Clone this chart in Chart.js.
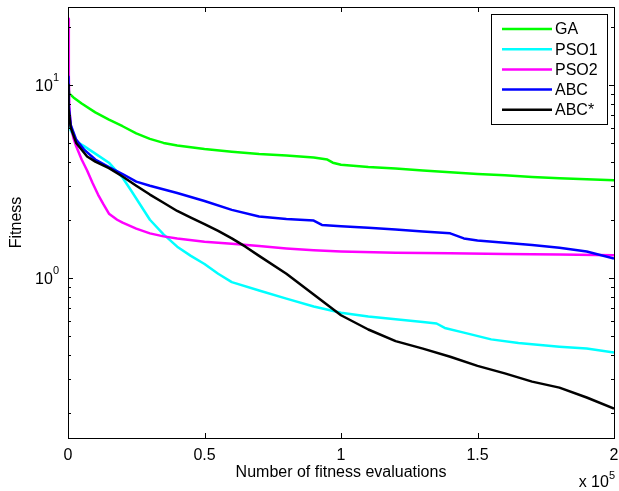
<!DOCTYPE html>
<html>
<head>
<meta charset="utf-8">
<script src="https://cdn.jsdelivr.net/npm/chart.js@4.4.1/dist/chart.umd.min.js"></script>
<style>
  body { margin: 0; background: #fff; }
  canvas { display: block; }
</style>
</head>
<body>
<canvas id="fitnessChart" width="619" height="491"></canvas>
<script>
// evaluations are in units of 1e5 (axis shows "x 10^5")
const seriesNames = ['GA', 'PSO1', 'PSO2', 'ABC', 'ABC*'];

const gaX = [0, 0.005, 0.02, 0.05, 0.1, 0.15, 0.2, 0.25, 0.3, 0.35, 0.4, 0.5, 0.6, 0.7, 0.8, 0.9, 0.95, 0.97, 1.0, 1.1, 1.2, 1.3, 1.4, 1.5, 1.6, 1.7, 1.8, 1.9, 2.0];
const gaY = [10, 9.0, 8.6, 8.0, 7.2, 6.6, 6.1, 5.6, 5.25, 5.0, 4.85, 4.65, 4.5, 4.38, 4.3, 4.2, 4.1, 3.95, 3.85, 3.75, 3.68, 3.6, 3.52, 3.45, 3.4, 3.33, 3.28, 3.24, 3.2];

const pso1X = [0, 0.003, 0.01, 0.03, 0.06, 0.1, 0.15, 0.2, 0.23, 0.26, 0.3, 0.35, 0.4, 0.45, 0.5, 0.55, 0.6, 0.7, 0.8, 0.9, 1.0, 1.1, 1.2, 1.3, 1.35, 1.38, 1.45, 1.55, 1.65, 1.8, 1.9, 2.0];
const pso1Y = [9, 7, 5.8, 5.1, 4.8, 4.4, 3.95, 3.3, 2.85, 2.45, 2.0, 1.68, 1.45, 1.3, 1.18, 1.05, 0.95, 0.86, 0.78, 0.71, 0.66, 0.63, 0.61, 0.59, 0.58, 0.55, 0.52, 0.48, 0.46, 0.44, 0.43, 0.41];

const pso2X = [0.002, 0.003, 0.005, 0.01, 0.02, 0.03, 0.05, 0.07, 0.09, 0.11, 0.13, 0.15, 0.18, 0.2, 0.25, 0.3, 0.35, 0.4, 0.5, 0.6, 0.7, 0.8, 0.9, 1.0, 1.2, 1.4, 1.6, 1.8, 2.0];
const pso2Y = [22, 11, 7.5, 6.2, 5.3, 4.8, 4.1, 3.6, 3.1, 2.7, 2.4, 2.15, 2.0, 1.93, 1.8, 1.7, 1.64, 1.6, 1.54, 1.5, 1.46, 1.42, 1.39, 1.37, 1.35, 1.34, 1.33, 1.32, 1.31];

const abcX = [0, 0.002, 0.01, 0.03, 0.06, 0.1, 0.15, 0.2, 0.25, 0.3, 0.4, 0.5, 0.6, 0.7, 0.8, 0.9, 0.93, 1.0, 1.1, 1.2, 1.3, 1.4, 1.45, 1.5, 1.6, 1.7, 1.8, 1.9, 2.0];
const abcY = [11, 8, 6.2, 5.2, 4.6, 4.1, 3.75, 3.45, 3.15, 3.0, 2.75, 2.5, 2.25, 2.08, 2.02, 1.98, 1.88, 1.85, 1.82, 1.78, 1.74, 1.7, 1.6, 1.56, 1.52, 1.48, 1.43, 1.37, 1.26];

const abcStarX = [0, 0.002, 0.01, 0.03, 0.07, 0.1, 0.15, 0.2, 0.25, 0.3, 0.35, 0.4, 0.45, 0.5, 0.55, 0.6, 0.65, 0.7, 0.8, 0.9, 1.0, 1.1, 1.2, 1.3, 1.4, 1.5, 1.6, 1.7, 1.8, 1.9, 2.0];
const abcStarY = [10, 7.5, 6.0, 5.0, 4.25, 4.0, 3.7, 3.35, 3.0, 2.7, 2.45, 2.22, 2.05, 1.9, 1.75, 1.6, 1.45, 1.3, 1.05, 0.82, 0.64, 0.54, 0.47, 0.43, 0.39, 0.35, 0.32, 0.29, 0.27, 0.24, 0.21];

const xTicks = [0, 0.5, 1, 1.5, 2];
const xTickLabels = ['0', '0.5', '1', '1.5', '2'];
const yMajorTicks = [1, 10];
const yTickExponents = ['0', '1'];
const yMinorTicks = [0.2, 0.3, 0.4, 0.5, 0.6, 0.7, 0.8, 0.9, 2, 3, 4, 5, 6, 7, 8, 9, 20];

const colors = ['#00ff00', '#00ffff', '#ff00ff', '#0000ff', '#000000'];
const FAMILY = '"Liberation Sans", Arial, sans-serif';
const FONT = '16px ' + FAMILY;
const SUP_FONT = '11px ' + FAMILY;

function toPoints(xs, ys) {
    return xs.map((x, i) => ({x: x, y: ys[i]}));
}

const allX = [gaX, pso1X, pso2X, abcX, abcStarX];
const allY = [gaY, pso1Y, pso2Y, abcY, abcStarY];

const datasets = seriesNames.map((name, i) => ({
    label: name,
    data: toPoints(allX[i], allY[i]),
    borderColor: colors[i],
    borderWidth: 2.5,
    pointRadius: 0,
    tension: 0,
    fill: false,
    borderJoinStyle: 'round',
    order: seriesNames.length - i   // later series on top, like matlab
}));

// axes box, inward ticks on all sides, log labels, legend and the exponent
const matlabAxes = {
    id: 'matlabAxes',
    afterDraw(chart) {
        const ctx = chart.ctx;
        const a = chart.chartArea;
        const xs = chart.scales.x;
        const ys = chart.scales.y;
        ctx.save();
        ctx.strokeStyle = '#000';
        ctx.lineWidth = 1;

        ctx.beginPath();
        xTicks.forEach(v => {
            const px = Math.round(xs.getPixelForValue(v)) + 0.5;
            ctx.moveTo(px, a.bottom); ctx.lineTo(px, a.bottom - 5);
            ctx.moveTo(px, a.top); ctx.lineTo(px, a.top + 5);
        });
        yMajorTicks.forEach(v => {
            const py = Math.round(ys.getPixelForValue(v)) + 0.5;
            ctx.moveTo(a.left, py); ctx.lineTo(a.left + 5, py);
            ctx.moveTo(a.right, py); ctx.lineTo(a.right - 5, py);
        });
        yMinorTicks.forEach(v => {
            const py = Math.round(ys.getPixelForValue(v)) + 0.5;
            ctx.moveTo(a.left, py); ctx.lineTo(a.left + 3, py);
            ctx.moveTo(a.right, py); ctx.lineTo(a.right - 3, py);
        });
        ctx.stroke();

        ctx.strokeRect(Math.round(a.left) + 0.5, Math.round(a.top) + 0.5,
            Math.round(a.right - a.left), Math.round(a.bottom - a.top));

        // y labels 10^n
        ctx.fillStyle = '#000';
        ctx.textBaseline = 'middle';
        yMajorTicks.forEach((v, i) => {
            const py = ys.getPixelForValue(v);
            ctx.font = SUP_FONT;
            const sw = ctx.measureText(yTickExponents[i]).width;
            ctx.font = FONT;
            const bw = ctx.measureText('10').width;
            const right = a.left - 9;
            ctx.textAlign = 'left';
            ctx.fillText('10', right - sw - bw, py + 2);
            ctx.font = SUP_FONT;
            ctx.fillText(yTickExponents[i], right - sw, py - 7);
        });

        // exponent under the x axis
        ctx.font = FONT;
        const base = 'x 10';
        const bw2 = ctx.measureText(base).width;
        ctx.font = SUP_FONT;
        const sw2 = ctx.measureText('5').width;
        const ex = a.right + 1 - bw2 - sw2;
        ctx.textAlign = 'left';
        ctx.textBaseline = 'alphabetic';
        ctx.font = FONT;
        ctx.fillText(base, ex, 487);
        ctx.font = SUP_FONT;
        ctx.fillText('5', ex + bw2, 479);

        // legend
        const lx = 491, ly = 14, lw = 116, lh = 110;
        ctx.fillStyle = '#fff';
        ctx.fillRect(lx, ly, lw, lh);
        ctx.strokeStyle = '#000';
        ctx.lineWidth = 1;
        ctx.strokeRect(lx + 0.5, ly + 0.5, lw, lh);
        chart.data.datasets.forEach((ds, i) => {
            const ry = ly + 15 + i * 20.2;
            ctx.strokeStyle = ds.borderColor;
            ctx.lineWidth = 2.5;
            ctx.beginPath();
            ctx.moveTo(lx + 11, ry); ctx.lineTo(lx + 61, ry);
            ctx.stroke();
            ctx.fillStyle = '#000';
            ctx.font = FONT;
            ctx.textBaseline = 'middle';
            ctx.fillText(ds.label, lx + 64, ry + 1);
        });
        ctx.restore();
    }
};

const ctx = document.getElementById('fitnessChart').getContext('2d');
new Chart(ctx, {
    type: 'line',
    data: { datasets: datasets },
    plugins: [matlabAxes],
    options: {
        responsive: false,
        animation: false,
        layout: { padding: { top: 7, right: 5, left: 0, bottom: 0 } },
        plugins: { legend: { display: false }, tooltip: { enabled: false } },
        scales: {
            x: {
                type: 'linear',
                min: 0,
                max: 2,
                afterFit: s => { s.height = 53; s.paddingLeft = 0; s.paddingRight = 0; },
                afterBuildTicks: s => { s.ticks = xTicks.map(v => ({value: v})); },
                grid: { display: false, drawTicks: false },
                border: { display: false },
                ticks: {
                    color: '#000',
                    font: { family: FAMILY, size: 16 },
                    padding: 8,
                    maxRotation: 0,
                    callback: (v) => xTickLabels[xTicks.indexOf(v)]
                },
                title: {
                    display: true,
                    text: 'Number of fitness evaluations',
                    color: '#000',
                    font: { family: FAMILY, size: 16 },
                    padding: { top: 0, bottom: 9 }
                }
            },
            y: {
                type: 'logarithmic',
                min: 0.148,
                max: 25.3,
                afterFit: s => { s.width = 68; s.paddingTop = 0; s.paddingBottom = 0; },
                grid: { display: false, drawTicks: false },
                border: { display: false },
                ticks: { display: false },
                title: {
                    display: true,
                    text: 'Fitness',
                    color: '#000',
                    font: { family: FAMILY, size: 16 },
                    padding: { top: 7, bottom: 0 }
                }
            }
        }
    }
});
</script>
</body>
</html>
